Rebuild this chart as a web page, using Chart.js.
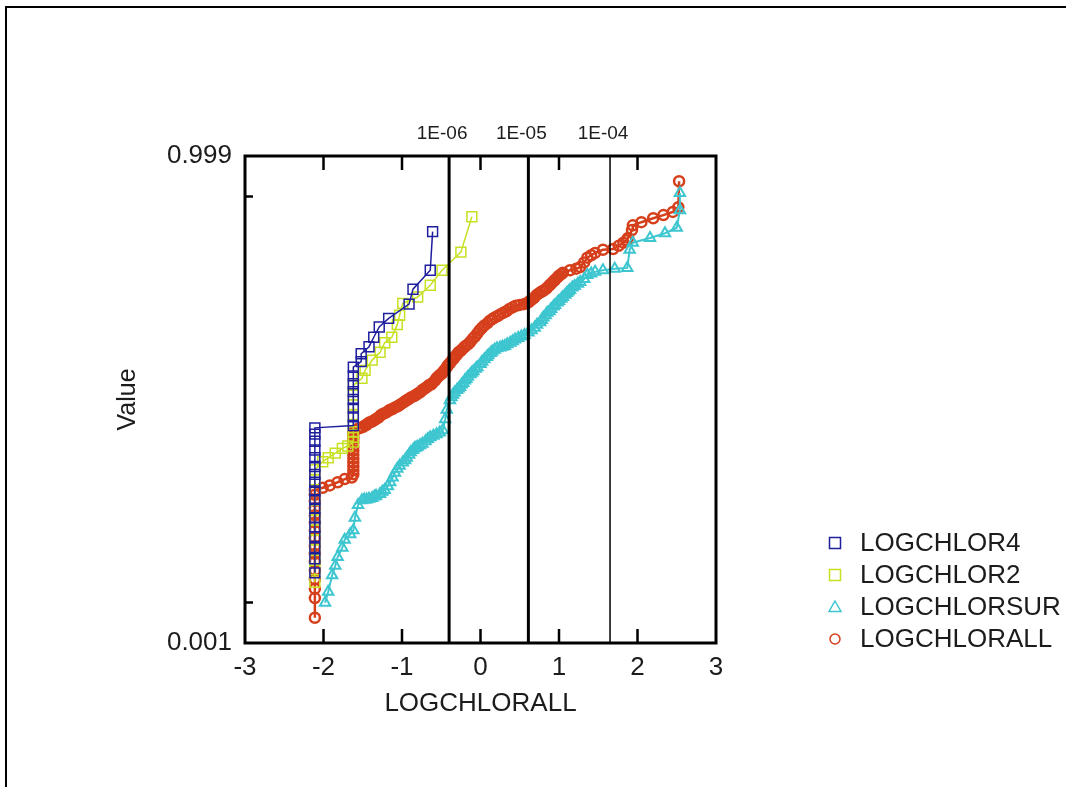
<!DOCTYPE html>
<html>
<head>
<meta charset="utf-8">
<title>Probability plot</title>
<script src="https://cdn.jsdelivr.net/npm/chart.js@4.4.1/dist/chart.umd.min.js"></script>
<style>
    html, body { margin: 0; padding: 0; background: #fff; overflow: hidden; }
    #frame { position: absolute; left: 5px; top: 6px; width: 1200px; height: 900px;
             border-left: 2px solid #000; border-top: 2px solid #000; }
    #wrap { position: absolute; left: 0; top: 0; width: 1066px; height: 787px; }
</style>
</head>
<body>
<div id="frame"></div>
<div id="wrap"><canvas id="myChart" width="1066" height="787"></canvas></div>
<script>
// y values are normal scores (probability axis), x is LOGCHLORALL
var seriesNames = ['LOGCHLOR4', 'LOGCHLOR2', 'LOGCHLORSUR', 'LOGCHLORALL'];

var chlor4X = [-2.11, -2.11, -2.11, -2.11, -2.11, -2.11, -2.11, -2.11, -2.11, -2.11, -2.11, -2.11, -2.11, -2.11, -2.11, -2.11, -2.11,
    -1.62, -1.62, -1.62, -1.62, -1.62, -1.62, -1.62, -1.62,
    -1.52, -1.52, -1.42, -1.36, -1.29, -1.17, -0.91, -0.86, -0.64, -0.61];
var chlor4Y = [-2.20, -2.02, -1.88, -1.74, -1.62, -1.50, -1.38, -1.27, -1.16, -1.05, -0.95, -0.85, -0.74, -0.64, -0.53, -0.44, -0.36,
    -0.33, -0.22, -0.11, 0.00, 0.10, 0.20, 0.30, 0.41,
    0.48, 0.58, 0.67, 0.79, 0.92, 1.03, 1.21, 1.40, 1.64, 2.13];

var chlor2X = [-2.11, -2.11, -2.11, -2.11, -2.11, -2.11, -2.11, -2.11, -2.11, -2.11, -2.11, -2.11,
    -2.01, -1.94, -1.85, -1.76, -1.69,
    -1.62, -1.62, -1.62, -1.62, -1.62, -1.62, -1.62, -1.62,
    -1.51, -1.47, -1.38, -1.28, -1.22, -1.13, -1.06, -1.03, -0.99, -0.80, -0.64, -0.49, -0.25, -0.11];
var chlor2Y = [-2.32, -2.16, -2.04, -1.91, -1.78, -1.66, -1.53, -1.40, -1.28, -1.15, -1.02, -0.89,
    -0.79, -0.74, -0.68, -0.62, -0.59,
    -0.54, -0.48, -0.41, -0.32, -0.19, -0.07, 0.06, 0.18,
    0.27, 0.37, 0.50, 0.60, 0.72, 0.79, 0.95, 1.07, 1.22, 1.30, 1.45, 1.64, 1.87, 2.32];

var chlorSurX = [-1.98, -1.94, -1.89, -1.85, -1.82, -1.76, -1.73, -1.66, -1.62, -1.60, -1.56, -1.51, -1.48, -1.45, -1.42,
    -1.38, -1.35, -1.33, -1.28, -1.25, -1.22, -1.18, -1.15, -1.12, -1.09, -1.06, -1.03, -0.99, -0.96, -0.94,
    -0.91, -0.89, -0.86, -0.84, -0.82, -0.80, -0.77, -0.74, -0.70, -0.67, -0.64, -0.60, -0.56, -0.52, -0.48,
    -0.45, -0.43, -0.39, -0.37, -0.35, -0.33, -0.30, -0.28, -0.26, -0.24, -0.22, -0.20, -0.18, -0.16, -0.13,
    -0.11, -0.09, -0.06, -0.04, 0.00, 0.02, 0.05, 0.08, 0.10, 0.13, 0.15, 0.18, 0.21, 0.25, 0.28,
    0.31, 0.34, 0.38, 0.41, 0.44, 0.48, 0.52, 0.56, 0.61, 0.65, 0.69, 0.72, 0.76, 0.78, 0.80,
    0.83, 0.85, 0.88, 0.90, 0.93, 0.95, 0.98, 1.00, 1.03, 1.05, 1.08, 1.10, 1.12, 1.14, 1.17,
    1.20, 1.24, 1.27, 1.32, 1.36, 1.41, 1.46, 1.56, 1.71, 1.87, 1.90, 1.94, 2.16, 2.35, 2.50, 2.54, 2.54];
var chlorSurY = [-2.58, -2.44, -2.23, -2.11, -2.00, -1.88, -1.78, -1.71, -1.66, -1.50, -1.34, -1.28, -1.27, -1.27, -1.26,
    -1.25, -1.23, -1.22, -1.20, -1.17, -1.15, -1.10, -1.05, -0.99, -0.93, -0.88, -0.84, -0.80, -0.77, -0.74,
    -0.70, -0.67, -0.64, -0.62, -0.61, -0.60, -0.58, -0.56, -0.53, -0.50, -0.48, -0.46, -0.44, -0.42, -0.39,
    -0.25, -0.13, -0.01, 0.03, 0.06, 0.09, 0.12, 0.14, 0.16, 0.19, 0.21, 0.24, 0.26, 0.29, 0.32,
    0.34, 0.36, 0.39, 0.41, 0.45, 0.48, 0.51, 0.54, 0.56, 0.59, 0.61, 0.63, 0.65, 0.66, 0.67,
    0.68, 0.70, 0.72, 0.74, 0.76, 0.78, 0.80, 0.82, 0.85, 0.88, 0.91, 0.95, 0.98, 1.01, 1.04,
    1.07, 1.10, 1.12, 1.15, 1.18, 1.20, 1.23, 1.25, 1.28, 1.30, 1.33, 1.35, 1.37, 1.39, 1.42,
    1.44, 1.47, 1.49, 1.53, 1.58, 1.60, 1.62, 1.64, 1.66, 1.67, 1.90, 1.99, 2.05, 2.11, 2.18, 2.40, 2.62];

var chlorAllX = [-2.11, -2.11, -2.11, -2.11, -2.11, -2.11, -2.11, -2.11, -2.11, -2.11, -2.11, -2.11, -2.11, -2.11, -2.11, -2.11,
    -2.01, -1.92, -1.82, -1.73, -1.64,
    -1.62, -1.62, -1.62, -1.62, -1.62, -1.62, -1.62, -1.62, -1.62, -1.62, -1.62, -1.62,
    -1.56, -1.53, -1.50, -1.47, -1.45, -1.43, -1.41, -1.38, -1.35, -1.32, -1.30, -1.27, -1.24, -1.21, -1.18,
    -1.15, -1.12, -1.09, -1.06, -1.03, -1.00, -0.97, -0.94, -0.91, -0.88, -0.85, -0.82, -0.79, -0.77, -0.74,
    -0.71, -0.68, -0.66, -0.63, -0.61, -0.58, -0.56, -0.54, -0.52, -0.49, -0.47, -0.45, -0.43, -0.41, -0.39,
    -0.36, -0.34, -0.32, -0.30, -0.28, -0.26, -0.24, -0.21, -0.19, -0.16, -0.13, -0.10, -0.07, -0.04, -0.01,
    0.02, 0.05, 0.09, 0.12, 0.15, 0.18, 0.22, 0.25, 0.29, 0.33, 0.37, 0.41, 0.45, 0.50, 0.55, 0.59,
    0.62, 0.64, 0.67, 0.69, 0.72, 0.75, 0.78, 0.80, 0.83, 0.85, 0.88, 0.90, 0.93, 0.95, 0.98, 1.00, 1.03, 1.05,
    1.14, 1.22, 1.27, 1.32, 1.36, 1.41, 1.46, 1.56, 1.69, 1.76, 1.82, 1.86, 1.88, 1.93, 1.94, 2.05,
    2.20, 2.33, 2.45, 2.52, 2.53];
var chlorAllY = [-2.77, -2.52, -2.40, -2.28, -2.17, -2.06, -1.96, -1.86, -1.76, -1.66, -1.56, -1.47, -1.38, -1.29, -1.21, -1.15,
    -1.12, -1.09, -1.05, -1.01, -0.99,
    -0.95, -0.90, -0.85, -0.80, -0.75, -0.70, -0.65, -0.60, -0.55, -0.50, -0.46, -0.42,
    -0.37, -0.36, -0.35, -0.33, -0.32, -0.30, -0.29, -0.28, -0.26, -0.24, -0.23, -0.20, -0.18, -0.17, -0.15,
    -0.13, -0.12, -0.10, -0.09, -0.07, -0.05, -0.03, -0.01, 0.01, 0.03, 0.04, 0.06, 0.08, 0.09, 0.12,
    0.14, 0.16, 0.18, 0.19, 0.21, 0.24, 0.27, 0.29, 0.31, 0.33, 0.36, 0.38, 0.41, 0.44, 0.46,
    0.50, 0.52, 0.55, 0.57, 0.60, 0.61, 0.63, 0.66, 0.68, 0.70, 0.73, 0.77, 0.80, 0.84, 0.88,
    0.91, 0.94, 0.97, 1.00, 1.02, 1.04, 1.06, 1.08, 1.10, 1.12, 1.15, 1.17, 1.19, 1.20, 1.21, 1.22,
    1.24, 1.26, 1.28, 1.30, 1.33, 1.35, 1.37, 1.38, 1.40, 1.42, 1.45, 1.47, 1.50, 1.52, 1.55, 1.57, 1.59, 1.61,
    1.64, 1.66, 1.68, 1.74, 1.80, 1.83, 1.86, 1.90, 1.91, 1.95, 1.99, 2.02, 2.05, 2.15, 2.21, 2.25,
    2.30, 2.34, 2.38, 2.44, 2.77];

// risk reference lines
var refLineX = [-0.40, 0.61, 1.65];
var refLineLabels = ['1E-06', '1E-05', '1E-04'];

// axis ticks
var yTickValues = [-3.09, -2.576, 2.576, 3.09];
var yTickLabels = ['0.001', '', '', '0.999'];
var xInnerTicks = [-2, -1, 0, 1, 2];
var yInnerTicks = [-2.576, 2.576];

var fontFamily = '"Liberation Sans", Arial, sans-serif';
var textColor = '#1c1c1c';
var seriesColors = ['#1f1f9e', '#c8e022', '#3ec6d0', '#d63f1c'];
var seriesMarkers = ['rect', 'rect', 'triangle', 'circle'];
var markerRadius = [7, 7, 6, 5];
var markerBorder = [1.5, 1.5, 2, 2.5];
var lineWidths = [1.5, 1.5, 2, 2.5];
var refLineWidths = [3, 3, 1.5];

function toPoints(xs, ys) {
    return xs.map(function (x, i) {
        return { x: x, y: ys[i] };
    });
}

var seriesData = [
    toPoints(chlor4X, chlor4Y),
    toPoints(chlor2X, chlor2Y),
    toPoints(chlorSurX, chlorSurY),
    toPoints(chlorAllX, chlorAllY)
];

var datasets = seriesNames.map(function (name, i) {
    return {
        label: name,
        data: seriesData[i],
        showLine: true,
        borderColor: seriesColors[i],
        backgroundColor: 'rgba(0,0,0,0)',
        borderWidth: lineWidths[i],
        pointStyle: seriesMarkers[i],
        pointRadius: markerRadius[i],
        pointBorderWidth: markerBorder[i],
        pointBorderColor: seriesColors[i],
        pointBackgroundColor: 'rgba(0,0,0,0)',
        order: i
    };
});

refLineX.forEach(function (v, i) {
    datasets.push({
        data: [{ x: v, y: yTickValues[0] }, { x: v, y: yTickValues[yTickValues.length - 1] }],
        showLine: true,
        borderColor: '#000',
        borderWidth: refLineWidths[i],
        pointRadius: 0,
        order: -1,
        isRef: true
    });
});

var framePlugin = {
    id: 'frame',
    afterDraw: function (chart) {
        var ctx = chart.ctx;
        var a = chart.chartArea;
        var xs = chart.scales.x;
        var ys = chart.scales.y;
        ctx.save();
        ctx.strokeStyle = '#000';
        ctx.lineWidth = 3;
        ctx.strokeRect(a.left, a.top, a.right - a.left, a.bottom - a.top);

        // inward tick marks
        ctx.lineWidth = 2.5;
        ctx.beginPath();
        xInnerTicks.forEach(function (v) {
            var px = xs.getPixelForValue(v);
            ctx.moveTo(px, a.bottom);
            ctx.lineTo(px, a.bottom - 14);
            ctx.moveTo(px, a.top);
            ctx.lineTo(px, a.top + 14);
        });
        yInnerTicks.forEach(function (v) {
            var py = ys.getPixelForValue(v);
            ctx.moveTo(a.left, py);
            ctx.lineTo(a.left + 8, py);
        });
        ctx.stroke();

        // labels above the reference lines
        ctx.fillStyle = textColor;
        ctx.font = '19px ' + fontFamily;
        ctx.textAlign = 'center';
        ctx.textBaseline = 'middle';
        refLineX.forEach(function (v, i) {
            ctx.fillText(refLineLabels[i], xs.getPixelForValue(v) - 7, a.top - 22);
        });

        // legend
        ctx.font = '26px ' + fontFamily;
        ctx.textAlign = 'left';
        chart.data.datasets.forEach(function (ds, i) {
            if (ds.isRef) return;
            var y = 543 + 32 * i;
            var x = 835;
            ctx.strokeStyle = ds.borderColor;
            ctx.lineWidth = 1.5;
            ctx.beginPath();
            if (ds.pointStyle === 'rect') {
                ctx.rect(x - 5.5, y - 5.5, 11, 11);
            } else if (ds.pointStyle === 'triangle') {
                ctx.moveTo(x, y - 6);
                ctx.lineTo(x + 6, y + 4.5);
                ctx.lineTo(x - 6, y + 4.5);
                ctx.closePath();
            } else {
                ctx.arc(x, y, 5, 0, Math.PI * 2);
            }
            ctx.stroke();
            ctx.fillStyle = textColor;
            ctx.fillText(ds.label, 860, y + 1);
        });
        ctx.restore();
    }
};

var ctx = document.getElementById('myChart');
var myChart = new Chart(ctx, {
    type: 'scatter',
    data: { datasets: datasets },
    options: {
        responsive: false,
        animation: false,
        devicePixelRatio: 1,
        layout: { padding: { left: 0, top: 156, right: 350, bottom: 68 } },
        plugins: {
            legend: { display: false },
            tooltip: { enabled: false }
        },
        scales: {
            x: {
                type: 'linear',
                min: -3,
                max: 3,
                ticks: { stepSize: 1, padding: 9, color: textColor, font: { family: fontFamily, size: 26 } },
                grid: { display: false, drawTicks: false },
                border: { display: false },
                title: {
                    display: true,
                    text: 'LOGCHLORALL',
                    color: textColor,
                    padding: 0,
                    font: { family: fontFamily, size: 26 }
                },
                afterFit: function (scale) { scale.height = 76; }
            },
            y: {
                type: 'linear',
                min: yTickValues[0],
                max: yTickValues[yTickValues.length - 1],
                afterBuildTicks: function (scale) {
                    scale.ticks = yTickValues.map(function (v) { return { value: v }; });
                },
                ticks: {
                    autoSkip: false,
                    padding: 13,
                    color: textColor,
                    font: { family: fontFamily, size: 26 },
                    callback: function (value, index) { return yTickLabels[index]; }
                },
                grid: { display: false, drawTicks: false },
                border: { display: false },
                title: {
                    display: true,
                    text: 'Value',
                    color: textColor,
                    padding: { top: 113, bottom: 0 },
                    font: { family: fontFamily, size: 25 }
                },
                afterFit: function (scale) { scale.width = 245; }
            }
        }
    },
    plugins: [framePlugin]
});
</script>
</body>
</html>
